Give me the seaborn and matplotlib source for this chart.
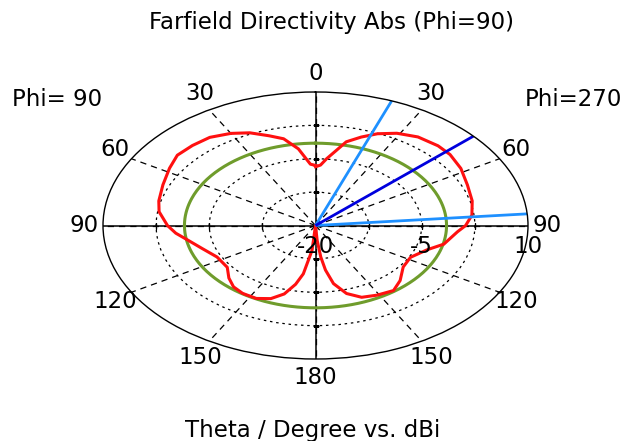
import numpy as np
import matplotlib
matplotlib.use("Agg")
import matplotlib.pyplot as plt
import seaborn as sns

# farfield cut, phi=90 side (right half of the plot): theta [deg], directivity [dBi]
theta_right = [0, 3, 6, 10, 13, 18, 23, 29, 36, 44, 50, 58, 67, 76, 84, 90,
               94, 103, 109, 118, 127, 136, 143, 151, 158, 164, 169, 172, 174, 176, 180]
dbi_right = [-6.8, -6.4, -4.9, -2.8, -0.7, 0.9, 2.4, 3.7, 4.6, 4.9, 4.8, 4.2, 3.3, 2.8, 2.2, 1.2,
             0.1, -1.4, -3.3, -4.8, -4.5, -2.8, -1.7, -2.1, -2.6, -4.1, -6.7, -9.9, -12.9, -16.7, -20.0]

# phi=270 side (left half), theta counted from the top the other way round
theta_left = [0, 3, 8, 13, 18, 24, 30, 37, 44, 51, 58, 67, 76, 82, 90, 95,
              100, 108, 117, 127, 134, 140, 146, 153, 159, 164, 168, 171, 175, 180]
dbi_left = [-6.5, -6.2, -2.6, 0.0, 1.2, 2.8, 3.9, 4.8, 5.0, 5.1, 4.3, 3.4, 2.8, 2.3, 0.9, -0.2,
            -1.6, -3.2, -4.4, -4.4, -3.0, -2.0, -1.6, -1.6, -2.4, -4.0, -6.5, -9.0, -14.4, -20.0]

side_lobe_level = -1.5          # green circle
main_lobe_dir = 48              # dark blue
beam_edges = [21, 85]           # light blue, 3 dB width

r_min, r_max = -20, 10
r_rings = [-12.5, -5, 2.5]
r_labels = {-20: "-20", -5: "-5", 10: "10"}
theta_ticks = list(range(0, 360, 30))
theta_labels = ["0", "30", "60", "90", "120", "150", "180", "150", "120", "90", "60", "30"]

plt.rcParams["font.family"] = ["DejaVu Sans"]
fs = 16.5

fig = plt.figure(figsize=(6.25, 4.41), dpi=100)
ax = fig.add_axes([103 / 625, 1 - 359 / 441, 425 / 625, 267 / 441], projection="polar")
ax.set_aspect("auto")
ax.set_theta_zero_location("N")
ax.set_theta_direction(-1)

# one continuous trace: right half 0..180, then left half 180..360
ang = np.deg2rad(np.concatenate([theta_right, 360 - np.array(theta_left[::-1])]))
val = np.clip(np.concatenate([dbi_right, dbi_left[::-1]]), r_min, r_max)

circ = np.deg2rad(np.arange(0, 361))
sns.lineplot(x=circ, y=np.full(circ.size, side_lobe_level), ax=ax, sort=False,
             estimator=None, color="#6f9c2c", lw=2.2)
sns.lineplot(x=ang, y=val, ax=ax, sort=False, estimator=None, color="#ff1010", lw=2.2)

ax.vlines(np.deg2rad(beam_edges), r_min, r_max, colors="#1e90ff", lw=2)
ax.vlines(np.deg2rad(main_lobe_dir), r_min, r_max, colors="#0000dd", lw=2)

# solid axes through the centre
ax.vlines(np.deg2rad([0, 90, 180, 270]), r_min, r_max, colors="black", lw=1.1, zorder=1)
for a, m in [(0, "_"), (180, "_"), (90, "|"), (270, "|")]:
    ax.plot([np.deg2rad(a)] * len(r_rings), r_rings, ls="none", marker=m, ms=5,
            mew=1.0, color="black", zorder=1)

ax.set_ylim(r_min, r_max)
ax.set_yticks(r_rings)
ax.set_yticklabels([])
ax.set_thetagrids(theta_ticks, theta_labels, fontsize=fs)
ax.tick_params(axis="x", pad=3)
ax.xaxis.grid(True, color="black", lw=0.9, linestyle=(0, (5, 4)))
ax.yaxis.grid(True, color="black", lw=0.9, linestyle=(0, (2, 3)))
ax.spines["polar"].set_linewidth(1.0)
ax.set_xlabel("")
ax.set_ylabel("")

for r, lbl in r_labels.items():
    ax.annotate(lbl, xy=(np.pi / 2, r), xytext=(0, -7), textcoords="offset points",
                ha="center", va="top", fontsize=fs)

fig.text(0.53, 1 - 22 / 441, "Farfield Directivity Abs (Phi=90)", ha="center", va="center", fontsize=fs)
fig.text(0.5, 1 - 430 / 441, "Theta / Degree vs. dBi", ha="center", va="center", fontsize=fs)
fig.text(12 / 625, 1 - 100 / 441, "Phi= 90", ha="left", va="center", fontsize=fs)
fig.text(622 / 625, 1 - 100 / 441, "Phi=270", ha="right", va="center", fontsize=fs)

fig.savefig("out.png", dpi=100)
